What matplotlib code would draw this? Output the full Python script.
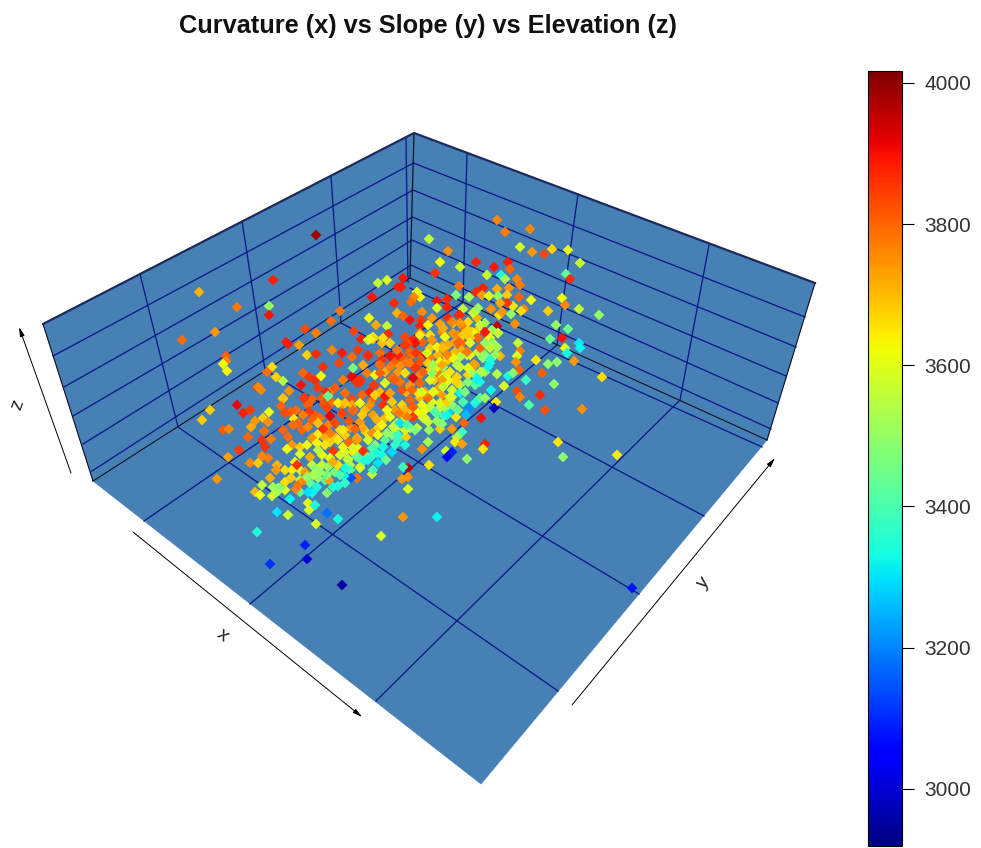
import matplotlib
matplotlib.use('Agg')
import matplotlib.pyplot as plt
from matplotlib.patches import Polygon
from matplotlib.colors import Normalize
from matplotlib.cm import ScalarMappable

plt.rcParams['font.family'] = ['Liberation Sans', 'DejaVu Sans']

title = 'Curvature (x) vs Slope (y) vs Elevation (z)'
bar_ticks = [3000, 3200, 3400, 3600, 3800, 4000]
elev_min = 2919
elev_max = 4017

# points: position on the projected box, elevation from colour
# left wall and back corner
left_x = [316, 273, 199, 237, 269, 269, 182, 215, 226, 226,
          223, 227, 340, 331, 305, 316, 286, 288, 299, 307,
          316, 332, 342, 323, 339, 272, 267, 276, 283, 257,
          261, 289, 283, 378, 387, 372, 398, 394, 397, 369,
          376, 387, 354, 361, 373, 368, 388, 382, 358, 368,
          352, 303, 309, 315, 321, 301, 343, 352, 360, 370,
          385, 305, 312, 330, 328]
left_y = [235, 280, 292, 307, 306, 315, 340, 332, 356, 361,
          364, 371, 311, 321, 329, 333, 342, 344, 345, 355,
          354, 350, 353, 367, 363, 367, 372, 377, 381, 387,
          390, 391, 398, 283, 280, 297, 287, 303, 313, 318,
          325, 326, 331, 339, 337, 340, 334, 343, 350, 356,
          357, 373, 377, 380, 376, 385, 380, 377, 382, 392,
          397, 398, 399, 392, 397]
left_z = [3990, 3880, 3710, 3780, 3500, 3900, 3790, 3740, 3810, 3760,
          3620, 3630, 3780, 3790, 3830, 3770, 3880, 3890, 3730, 3670,
          3870, 3760, 3890, 3860, 3840, 3660, 3790, 3670, 3540, 3850,
          3760, 3750, 3690, 3560, 3590, 3890, 3880, 3870, 3710, 3620,
          3720, 3560, 3840, 3880, 3610, 3550, 3870, 3700, 3850, 3860,
          3790, 3800, 3850, 3860, 3620, 3900, 3770, 3880, 3860, 3850,
          3850, 3850, 3800, 3770, 3420]

# right wall and upper end of the cloud
right_x = [497, 505, 530, 429, 520, 532, 544, 552, 568, 580,
           448, 440, 460, 476, 494, 508, 510, 435, 487, 501,
           505, 517, 520, 566, 570, 459, 403, 401, 417, 420,
           414, 411, 476, 483, 497, 509, 456, 469, 482, 489,
           498, 507, 519, 531, 562, 565, 579, 599, 548, 524,
           521, 513, 507, 500, 491, 437, 447, 447, 437, 463,
           478, 475, 459, 448, 422, 403, 410, 421, 420, 428,
           432, 440, 453, 468, 477, 485, 499, 502, 511, 497,
           515, 498, 486, 478, 472, 468, 463, 453, 442, 430]
right_y = [220, 232, 229, 239, 247, 252, 254, 249, 250, 263,
           251, 262, 267, 262, 267, 262, 269, 273, 275, 275,
           279, 279, 285, 274, 279, 286, 278, 287, 292, 297,
           297, 302, 292, 288, 289, 288, 295, 297, 295, 296,
           296, 295, 297, 300, 298, 305, 309, 315, 311, 309,
           311, 306, 303, 303, 309, 301, 299, 307, 308, 309,
           308, 312, 315, 318, 312, 316, 320, 320, 326, 325,
           318, 324, 323, 322, 318, 323, 315, 312, 314, 326,
           324, 333, 333, 330, 332, 333, 327, 333, 332, 335]
right_z = [3760, 3770, 3760, 3560, 3580, 3740, 3840, 3670, 3610, 3570,
           3750, 3620, 3570, 3880, 3890, 3880, 3800, 3860, 3570, 3340,
           3520, 3760, 3770, 3430, 3870, 3780, 3890, 3880, 3620, 3610,
           3760, 3790, 3870, 3880, 3720, 3750, 3470, 3520, 3730, 3600,
           3500, 3680, 3800, 3620, 3620, 3760, 3570, 3500, 3680, 3760,
           3660, 3650, 3850, 3720, 3750, 3900, 3870, 3880, 3600, 3560,
           3510, 3490, 3890, 3870, 3750, 3800, 3900, 3850, 3880, 3630,
           3740, 3730, 3680, 3670, 3710, 3510, 3660, 3740, 3500, 3950,
           3750, 3570, 3890, 3670, 3620, 3660, 3770, 3740, 3760, 3660]

# lower right of the cloud and the stragglers on the floor
floor_x = [420, 405, 413, 422, 442, 455, 462, 478, 482, 490,
           497, 518, 520, 550, 568, 562, 556, 565, 579, 580,
           567, 574, 602, 557, 548, 536, 517, 516, 519, 542,
           497, 508, 513, 526, 504, 554, 517, 520, 540, 491,
           500, 490, 485, 480, 480, 477, 468, 474, 457, 460,
           452, 442, 545, 582, 529, 496, 494, 480, 485, 475,
           469, 463, 466, 481, 464, 456, 450, 444, 437, 438,
           425, 413, 429, 440, 452, 462, 457, 455, 462, 428,
           422, 446, 452, 447, 467, 485, 483, 558, 563, 617,
           632, 429, 408, 403, 408, 408, 402, 403, 437, 406,
           417, 410, 450, 423, 413, 403]
floor_y = [333, 337, 340, 342, 346, 342, 343, 338, 347, 342,
           347, 343, 351, 339, 329, 338, 325, 348, 343, 348,
           353, 361, 377, 362, 364, 360, 356, 362, 370, 373,
           374, 376, 373, 380, 386, 384, 391, 397, 395, 390,
           356, 363, 372, 372, 382, 377, 375, 364, 382, 393,
           397, 386, 410, 409, 405, 402, 408, 398, 398, 403,
           408, 402, 415, 418, 423, 417, 411, 416, 414, 422,
           418, 417, 430, 429, 429, 432, 437, 442, 444, 442,
           449, 451, 452, 457, 459, 444, 449, 442, 457, 455,
           588, 465, 468, 467, 489, 477, 479, 517, 517, 437,
           428, 428, 400, 408, 407, 415]
floor_z = [3770, 3840, 3870, 3800, 3740, 3730, 3790, 3800, 3740, 3550,
           3530, 3570, 3770, 3450, 3440, 3900, 3500, 3610, 3310, 3320,
           3330, 3740, 3660, 3490, 3500, 3650, 3590, 3750, 3800, 3810,
           3540, 3330, 3480, 3380, 3590, 3490, 3830, 3760, 3870, 3320,
           3700, 3340, 3500, 3540, 3330, 3350, 3670, 3730, 3650, 3320,
           3560, 3720, 3820, 3750, 3410, 3650, 2980, 3420, 3500, 3340,
           3210, 3400, 3260, 3900, 3800, 3650, 3280, 3370, 3380, 3520,
           3580, 3800, 3510, 3680, 3740, 3390, 3530, 3640, 3730, 3520,
           3750, 3590, 3090, 3060, 3490, 3880, 3650, 3650, 3490, 3640,
           3080, 3650, 3960, 3380, 3590, 3750, 3740, 3740, 3320, 3680,
           3580, 3510, 3570, 3330, 3790, 3730]

# lower left of the cloud
low_x = [210, 202, 237, 243, 250, 269, 263, 268, 251, 255,
         223, 229, 248, 264, 262, 271, 265, 239, 228, 262,
         268, 250, 258, 277, 276, 217, 262, 255, 260, 272,
         273, 278, 277, 285, 291, 296, 298, 304, 290, 277,
         288, 308, 309, 315, 312, 317, 327, 329, 316, 327,
         338, 257, 305, 270, 307, 342, 381, 386, 372, 373,
         360, 363, 357, 351, 344, 345, 338, 333, 304, 258]
low_y = [410, 420, 405, 413, 410, 412, 418, 422, 427, 421,
         430, 429, 437, 431, 440, 439, 447, 450, 457, 456,
         458, 463, 463, 465, 470, 479, 485, 492, 495, 496,
         487, 488, 492, 482, 478, 489, 485, 480, 499, 512,
         515, 503, 510, 505, 493, 487, 493, 480, 524, 513,
         519, 532, 545, 564, 559, 585, 536, 460, 474, 470,
         468, 462, 478, 478, 476, 483, 486, 487, 398, 387]
low_z = [3680, 3680, 3910, 3880, 3850, 3620, 3680, 3750, 3720, 3740,
         3810, 3760, 3800, 3790, 3860, 3770, 3860, 3850, 3730, 3760,
         3770, 3760, 3680, 3710, 3740, 3740, 3560, 3700, 3620, 3570,
         3520, 3510, 3540, 3660, 3680, 3760, 3780, 3760, 3320, 3300,
         3570, 3610, 3590, 3340, 3320, 3340, 3480, 3730, 3590, 3180,
         3330, 3350, 3090, 3110, 3000, 2950, 3590, 3450, 3590, 3400,
         3550, 3340, 3790, 3150, 3320, 3370, 3340, 3350, 3850, 3760]

# dense middle, gaps between the points that could be read singly
fill_x = [318, 326, 335, 345, 352, 362, 374, 392, 398, 412,
          322, 332, 342, 352, 365, 372, 380, 392, 402, 406,
          296, 290, 315, 320, 312, 328, 336, 325, 318, 350,
          360, 366, 378, 385, 395, 404, 396, 405, 412, 405,
          420, 425, 432, 438, 445, 418, 428, 442, 452, 458,
          434, 446, 452, 460, 468, 465, 475, 472, 448, 455,
          462, 470, 478, 485, 495, 438, 430, 422, 410, 402,
          395, 385, 400, 410, 420, 430, 438, 448, 458, 470,
          338, 330, 322, 312, 300, 292, 285, 340, 350, 366,
          375, 385, 392, 398, 405, 358, 345, 325, 335, 318,
          300, 285, 270, 300, 310, 350, 360, 372, 382, 415]
fill_y = [388, 392, 388, 393, 399, 395, 385, 378, 372, 355,
          398, 402, 405, 405, 410, 400, 392, 402, 405, 392,
          410, 412, 415, 418, 420, 425, 438, 438, 434, 428,
          422, 432, 428, 418, 410, 420, 428, 430, 412, 410,
          398, 410, 402, 410, 408, 413, 422, 424, 405, 410,
          380, 375, 390, 385, 382, 392, 385, 372, 360, 352,
          350, 355, 352, 355, 355, 355, 358, 355, 352, 357,
          362, 372, 382, 385, 375, 370, 368, 345, 335, 338,
          440, 442, 455, 465, 470, 470, 470, 455, 465, 455,
          445, 440, 435, 440, 445, 448, 452, 480, 472, 478,
          480, 490, 478, 492, 483, 470, 458, 456, 455, 430]
fill_z = [3850, 3870, 3810, 3790, 3830, 3800, 3850, 3790, 3740, 3790,
          3810, 3790, 3750, 3720, 3700, 3790, 3700, 3680, 3670, 3710,
          3790, 3810, 3810, 3790, 3800, 3760, 3690, 3710, 3640, 3740,
          3740, 3660, 3680, 3700, 3740, 3650, 3610, 3580, 3680, 3700,
          3710, 3630, 3600, 3570, 3520, 3620, 3570, 3480, 3480, 3440,
          3680, 3640, 3580, 3530, 3480, 3470, 3420, 3520, 3680, 3700,
          3720, 3620, 3560, 3480, 3500, 3710, 3760, 3800, 3800, 3810,
          3810, 3720, 3780, 3740, 3760, 3660, 3640, 3720, 3760, 3680,
          3650, 3680, 3610, 3560, 3580, 3640, 3660, 3600, 3530, 3430,
          3480, 3420, 3470, 3380, 3340, 3620, 3580, 3410, 3470, 3500,
          3540, 3600, 3720, 3430, 3430, 3410, 3340, 3390, 3330, 3480]

# dense middle, west half
core_w_x = [283, 281, 285, 304, 308, 309, 324, 327, 330, 342,
            335, 349, 353, 338, 328, 303, 294, 298, 302, 293,
            283, 288, 308, 323, 318, 330, 312, 292, 300, 307,
            317, 325, 340, 345, 349, 357, 333, 353, 343, 318,
            330, 300, 310, 287, 295, 297, 305, 315, 322, 328,
            338, 348, 357, 333, 313, 307, 320, 327, 340, 345,
            280, 308]
core_w_y = [399, 406, 413, 398, 405, 412, 404, 408, 416, 414,
            423, 421, 410, 403, 396, 415, 419, 423, 430, 425,
            430, 437, 427, 429, 423, 433, 438, 445, 447, 445,
            443, 445, 430, 435, 442, 438, 451, 452, 447, 450,
            458, 454, 457, 449, 462, 465, 472, 468, 465, 467,
            465, 460, 457, 462, 475, 477, 472, 475, 475, 468,
            488, 492]
core_w_z = [3690, 3800, 3830, 3850, 3810, 3850, 3820, 3840, 3920, 3810,
            3830, 3820, 3750, 3640, 3430, 3770, 3640, 3800, 3800, 3790,
            3800, 3790, 3760, 3860, 3690, 3770, 3740, 3740, 3680, 3620,
            3630, 3650, 3670, 3680, 3790, 3710, 3850, 3640, 3620, 3560,
            3600, 3600, 3720, 3620, 3620, 3860, 3740, 3500, 3560, 3510,
            3660, 3550, 3440, 3720, 3530, 3500, 3510, 3470, 3400, 3330,
            3490, 3300]

# dense middle, east half
core_e_x = [352, 360, 357, 370, 367, 375, 380, 380, 390, 400,
            408, 415, 423, 413, 420, 430, 440, 447, 395, 385,
            405, 402, 385, 383, 410, 413, 399, 413, 390, 375,
            370, 360, 353, 342, 345, 362, 373, 377, 387, 390,
            418, 428, 437, 442, 425, 440, 447, 430, 422, 423,
            435, 437, 447, 393, 397, 382, 363, 355, 372, 368,
            357, 349, 378, 343, 387, 398, 363, 353, 372, 377,
            383, 368, 348, 360, 378, 392, 395, 373, 370, 383,
            390, 415, 408, 420, 426, 432, 430, 416, 398, 390,
            397, 380, 382, 368, 410, 420, 407, 442, 447, 440,
            428, 380, 363, 353, 405, 415, 427, 437, 433, 443,
            457, 467, 432, 443, 455, 440, 450, 433, 422, 412,
            407, 400, 407, 460, 473, 480, 492, 485, 498, 490,
            468, 460, 452, 443, 445, 458, 463, 470, 480, 485,
            492, 490, 497, 475, 483, 467, 460, 453, 447, 443,
            442, 460, 468, 450, 457, 490, 488, 482, 477, 448,
            457, 442, 443]
core_e_y = [376, 380, 383, 392, 373, 375, 363, 373, 367, 366,
            363, 367, 372, 378, 383, 380, 375, 382, 380, 383,
            373, 390, 396, 405, 400, 407, 413, 417, 393, 395,
            405, 403, 411, 413, 403, 415, 415, 420, 410, 417,
            393, 398, 390, 395, 392, 403, 402, 407, 405, 418,
            412, 421, 415, 427, 423, 425, 428, 429, 433, 440,
            440, 443, 435, 430, 433, 435, 451, 448, 448, 453,
            447, 460, 459, 467, 463, 452, 445, 339, 339, 338,
            343, 343, 344, 335, 354, 340, 348, 353, 355, 356,
            350, 353, 360, 355, 363, 362, 362, 348, 357, 362,
            363, 365, 365, 368, 345, 368, 353, 347, 365, 367,
            365, 355, 373, 377, 380, 387, 397, 392, 392, 390,
            417, 423, 425, 315, 313, 325, 330, 332, 333, 338,
            330, 323, 322, 328, 337, 343, 335, 343, 348, 343,
            342, 348, 347, 365, 358, 352, 357, 358, 355, 348,
            365, 367, 368, 372, 377, 360, 367, 372, 380, 380,
            383, 380, 387]
core_e_z = [3910, 3860, 3860, 3880, 3770, 3610, 3800, 3810, 3770, 3750,
            3840, 3860, 3800, 3920, 3800, 3600, 3760, 3610, 3810, 3600,
            3660, 3820, 3890, 3860, 3800, 3810, 3770, 3850, 3730, 3670,
            3750, 3620, 3800, 3840, 3690, 3680, 3730, 3700, 3620, 3620,
            3640, 3790, 3650, 3730, 3730, 3600, 3670, 3560, 3620, 3590,
            3400, 3500, 3330, 3560, 3540, 3630, 3720, 3800, 3750, 3590,
            3730, 3790, 3620, 3650, 3500, 3380, 3860, 3600, 3400, 3340,
            3330, 3340, 3550, 3580, 3300, 3290, 3370, 3680, 3620, 3660,
            3670, 3900, 3830, 3640, 3920, 3740, 3680, 3850, 3880, 3900,
            3780, 3790, 3860, 3870, 3770, 3820, 3780, 3740, 3670, 3620,
            3680, 3790, 3720, 3470, 3850, 3850, 3600, 3640, 3520, 3500,
            3540, 3560, 3500, 3560, 3670, 3730, 3590, 3610, 3600, 3800,
            3770, 3300, 3400, 3870, 3560, 3570, 3510, 3890, 3570, 3620,
            3680, 3740, 3760, 3720, 3620, 3800, 3680, 3600, 3800, 3490,
            3510, 3560, 3530, 3730, 3500, 3770, 3540, 3620, 3760, 3700,
            3720, 3570, 3600, 3650, 3670, 3340, 3320, 3540, 3320, 3610,
            3670, 3730, 3560]

px = left_x + right_x + floor_x + fill_x + low_x + core_w_x + core_e_x
py = left_y + right_y + floor_y + fill_y + low_y + core_w_y + core_e_y
pz = left_z + right_z + floor_z + fill_z + low_z + core_w_z + core_e_z

fig = plt.figure(figsize=(9.81, 8.48), dpi=100, facecolor='white')
ax = fig.add_axes([0, 0, 1, 1])
ax.set_xlim(0, 981)
ax.set_ylim(848, 0)
ax.axis('off')

panel = '#4780b4'
navy = '#0c1a8a'

# box
left_wall = [(43, 324), (414, 133), (410, 278), (93, 481)]
right_wall = [(414, 133), (815, 283), (767, 440), (410, 278)]
floor = [(93, 481), (410, 278), (767, 440), (481, 784)]
for poly in [left_wall, right_wall, floor]:
    ax.add_patch(Polygon(poly, closed=True, facecolor=panel, edgecolor=panel, lw=0.5, zorder=1))

# wall rings, left edge -> corner -> right edge
ring_l = [(53, 356), (64, 387), (73, 416), (83, 444), (92, 471)]
ring_c = [(413.5, 163), (413, 190), (412.5, 217), (412, 240), (411, 265)]
ring_r = [(805, 317), (796, 347), (786, 376), (778, 403), (771, 429)]
for a, b, c in zip(ring_l, ring_c, ring_r):
    ax.plot([a[0], b[0], c[0]], [a[1], b[1], c[1]], color=navy, lw=0.95, zorder=2)

# wall uprights with their floor continuation
left_ups = [((140, 274), (178, 427), (558, 691)),
            ((242, 221), (265, 370), (639, 594)),
            ((331, 176), (341, 323), (704, 516))]
right_ups = [((467, 153), (463, 302), (144, 521)),
             ((578, 194), (557, 345), (250, 604)),
             ((709, 245), (680, 400), (376, 701))]
for a, b, c in left_ups + right_ups:
    ax.plot([a[0], b[0], c[0]], [a[1], b[1], c[1]], color=navy, lw=0.95, zorder=2)
ax.plot([406, 408], [137, 282], color=navy, lw=0.95, zorder=2)
ax.plot([410, 762], [288, 447], color=navy, lw=0.95, zorder=2)

# box edges
ax.plot([93, 410, 767], [481, 278, 440], color='#111122', lw=0.8, zorder=2)
ax.plot([414, 410], [133, 278], color='#111122', lw=0.9, zorder=2)
ax.plot([43, 93], [324, 481], color='#111122', lw=0.8, zorder=2)
ax.plot([815, 767], [283, 440], color='#111122', lw=0.8, zorder=2)
ax.plot([43, 414, 815], [324, 133, 283], color='#1c2a5c', lw=1.6, zorder=3)

norm = Normalize(elev_min, elev_max)
ax.scatter(px, py, c=pz, cmap='jet', norm=norm, marker='D', s=30, linewidths=0, zorder=4)

# axis arrows and names
arrow = dict(arrowstyle='-|>,head_length=0.55,head_width=0.14', color='black', lw=0.7,
             shrinkA=0, shrinkB=0)
ax.annotate('', xy=(19, 327), xytext=(71, 473), arrowprops=arrow)
ax.annotate('', xy=(362, 717), xytext=(133, 532), arrowprops=arrow)
ax.annotate('', xy=(775, 458), xytext=(572, 705), arrowprops=arrow)
ax.text(18, 405, 'z', rotation=70, fontsize=14, ha='center', va='center', color='#222222')
ax.text(222, 635, 'x', rotation=-38, fontsize=14, ha='center', va='center', color='#222222')
ax.text(704, 583, 'y', rotation=50, fontsize=14, ha='center', va='center', color='#222222')

ax.text(428, 26, title, fontsize=18.3, fontweight='bold', ha='center', va='center', color='#111111')

# colour bar
cax = fig.add_axes([868 / 981, 2 / 848, 34 / 981, 775 / 848])
cb = fig.colorbar(ScalarMappable(norm=norm, cmap='jet'), cax=cax, ticks=bar_ticks)
cb.ax.tick_params(length=8.4, width=0.8, labelsize=15, pad=7.5, labelcolor='#333333')
cb.outline.set_linewidth(0.8)

fig.savefig('out.png', dpi=100)
